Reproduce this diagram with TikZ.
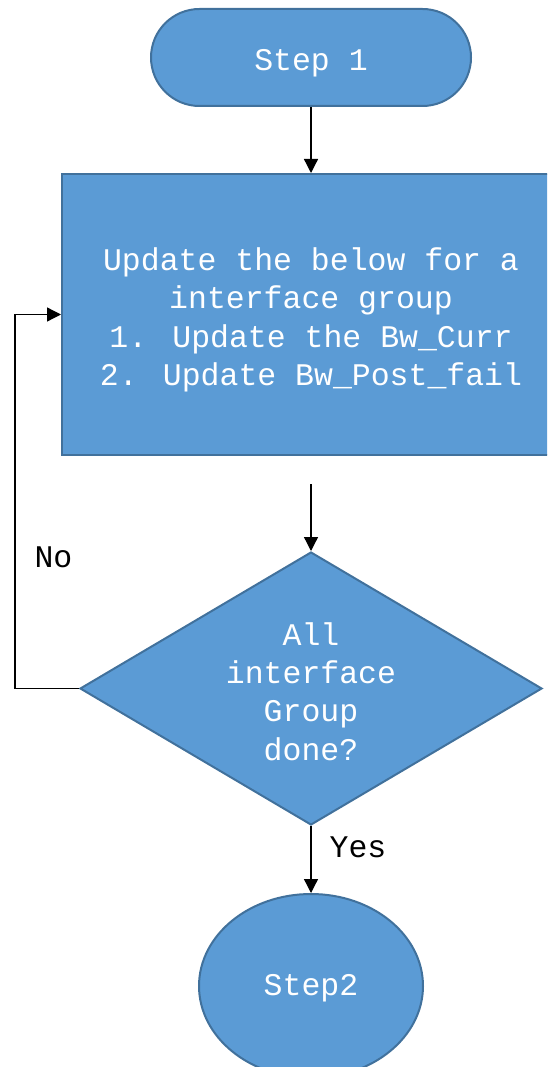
\documentclass[tikz,border=0pt]{standalone}
\usepackage{fontspec}
\setmainfont{Liberation Mono}
\usetikzlibrary{shapes.geometric,arrows.meta}
\definecolor{fillblue}{HTML}{5B9BD5}
\definecolor{edgeblue}{HTML}{41719C}
\tikzset{
  x=1pt,y=-1pt,
  shp/.style={fill=fillblue,draw=edgeblue,line width=2pt,inner sep=0pt,text=white,
    font=\fontsize{31.5}{38.3}\selectfont,align=center},
  intext/.style={text=white,font=\fontsize{31.5}{38.3}\selectfont,align=center,inner sep=0pt},
  conn/.style={draw=black,line width=1.3pt,-{Triangle[length=14pt,width=14pt]}},
  lbl/.style={text=black,font=\fontsize{31.5}{38.3}\selectfont,inner sep=0pt}
}
\begin{document}
\begin{tikzpicture}
\useasboundingbox (0,0) rectangle (547,1067);
\begin{scope}
\clip (0,0) rectangle (547,1067);
\node[shp,rectangle,rounded corners=48.5pt,minimum width=320pt,minimum height=97pt] (start) at (311,57.5) {\raisebox{-5.5pt}[\height][\depth]{Step 1}};
\node[shp,rectangle,minimum width=498pt,minimum height=281pt] (box) at (311,314.5) {};
\node[intext] (boxtext) at (311,320) {Update the below for a\\interface group\\1. Update the Bw\_Curr\\2. Update Bw\_Post\_fail};
\node[shp,diamond,minimum width=462pt,minimum height=273pt] (dec) at (311,688.5) {};
\node[intext] (dectext) at (311,691.5) {All\\interface\\Group\\done?};
\node[shp,ellipse,minimum width=224pt,minimum height=184pt] (end) at (311,986) {\raisebox{-2pt}[\height][\depth]{Step2}};
\end{scope}
\coordinate (a2) at (311,484);
\coordinate (lp) at (15,688.5);
\draw[conn] (start) -- (box);
\draw[conn] (a2) -- (dec.north);
\draw[conn] (dec.west) -- (lp) |- (box.west);
\draw[conn] (dec.south) -- (end.north);
\node[lbl] (no) at (53.5,557) {No};
\node[lbl] (yes) at (358,847) {Yes};
\end{tikzpicture}
\end{document}
